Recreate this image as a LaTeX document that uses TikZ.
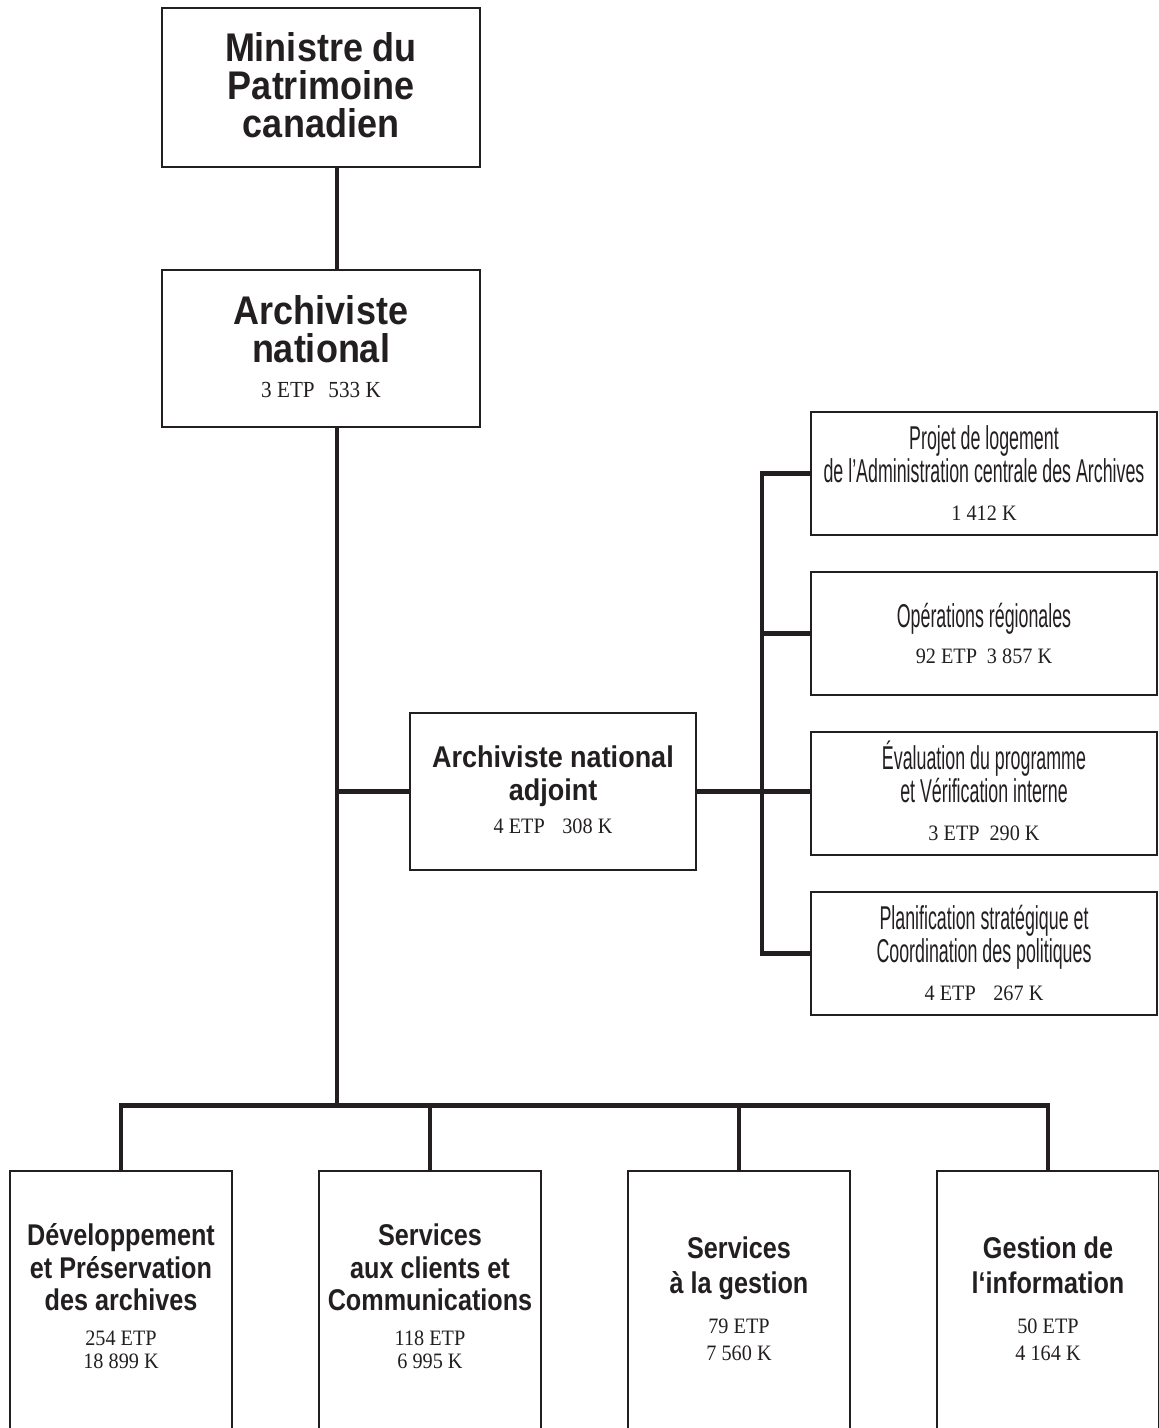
\documentclass[tikz,border=0pt]{standalone}
\usepackage{fontspec}
\setmainfont{Liberation Serif}
\newfontfamily\hbA[FakeStretch=0.9]{Liberation Sans Bold}
\newfontfamily\hbC[FakeStretch=0.84]{Liberation Sans Bold}
\newfontfamily\condf[FakeStretch=0.54]{Liberation Sans}
\newfontfamily\numf[FakeStretch=0.92]{Liberation Serif}
\definecolor{ink}{HTML}{231F20}
\begin{document}
\begin{tikzpicture}[x=0.5pt,y=-0.5pt,
  box/.style={draw=ink, line width=1.2pt, rectangle, inner sep=0pt},
  conn/.style={draw=ink, line width=2.2pt},
  txt/.style={anchor=base, inner sep=0pt, text=ink},
  big/.style={txt, font=\hbA\fontsize{20}{20}\selectfont},
  mid/.style={txt, font=\hbA\fontsize{15}{15}\selectfont},
  low/.style={txt, font=\hbC\fontsize{15}{15}\selectfont},
  thn/.style={txt, font=\condf\fontsize{16.5}{16.5}\selectfont},
  num/.style={txt, font=\numf\fontsize{11}{11}\selectfont},
  numbig/.style={txt, font=\numf\fontsize{11.5}{11.5}\selectfont},
  topbox/.style={box, minimum width=159pt, minimum height=79.5pt},
  rbox/.style={box, minimum width=173pt, minimum height=61.5pt},
  bbox/.style={box, minimum width=111pt, minimum height=140pt},
]
\useasboundingbox (0,0) rectangle (1159,1428);

% boxes
\node[topbox] (min) at (321,87.5) {};
\node[topbox, minimum height=78.5pt] (an) at (321,348.5) {};
\node[box, minimum width=143pt, minimum height=78.5pt] (adj) at (553,791.5) {};
\node[rbox] (r1) at (984,473.5) {};
\node[rbox] (r2) at (984,633.5) {};
\node[rbox] (r3) at (984,793.5) {};
\node[rbox] (r4) at (984,953.5) {};
\node[bbox] (b1) at (121,1311) {};
\node[bbox] (b2) at (430,1311) {};
\node[bbox] (b3) at (739,1311) {};
\node[bbox] (b4) at (1048,1311) {};

% connectors
\coordinate (mv) at (337,0);
\coordinate (rb) at (762,0);
\coordinate (bus) at (0,1105.5);
\draw[conn] (min.south -| mv) -- (an.north -| mv);
\draw[conn] (an.south -| mv) -- (bus -| mv);
\draw[conn] (b1.north) -- (b1.north |- bus) -- (b4.north |- bus) -- (b4.north);
\draw[conn] (b2.north) -- (b2.north |- bus);
\draw[conn] (b3.north) -- (b3.north |- bus);
\draw[conn] (adj.west) -- (adj.west -| mv);
\draw[conn] (adj.east) -- (adj.east -| r3.west);
\draw[conn] (r1.west) -- (r1.west -| rb) -- (r4.west -| rb) -- (r4.west);
\draw[conn] (r2.west) -- (r2.west -| rb);

% texts: top
\node[big] (t1) at (321,62) {Ministre du};
\node[big] (t2) at (321,100) {Patrimoine};
\node[big] (t3) at (321,138) {canadien};
\node[big] (t4) at (321,325) {Archiviste};
\node[big] (t5) at (321,363) {national};
\node[numbig] (t6) at (321,397) {3 ETP\hspace{0.6em}533 K};

% adjoint
\node[mid] (a1) at (553,767) {Archiviste national};
\node[mid] (a2) at (553,800) {adjoint};
\node[num] (a3) at (553,833) {4 ETP\hspace{0.8em}308 K};

% right boxes
\node[thn] (p1) at (984,449) {Projet de logement};
\node[thn] (p2) at (984,482) {de l’Administration centrale des Archives};
\node[num] (p3) at (984,520) {1 412 K};
\node[thn] (o1) at (984,627) {Opérations régionales};
\node[num] (o2) at (984,663) {92 ETP\hspace{0.45em}3 857 K};
\node[thn] (e1) at (984,769) {Évaluation du programme};
\node[thn] (e2) at (984,802) {et Vérification interne};
\node[num] (e3) at (984,840) {3 ETP\hspace{0.45em}290 K};
\node[thn] (s1) at (984,929) {Planification stratégique et};
\node[thn] (s2) at (984,962) {Coordination des politiques};
\node[num] (s3) at (984,1000) {4 ETP\hspace{0.8em}267 K};

% bottom boxes
\node[low] (d1) at (121,1245) {Développement};
\node[low] (d2) at (121,1278) {et Préservation};
\node[low] (d3) at (121,1310) {des archives};
\node[num] (d4) at (121,1345) {254 ETP};
\node[num] (d5) at (121,1368) {18 899 K};

\node[low] (c1) at (430,1245) {Services};
\node[low] (c2) at (430,1278) {aux clients et};
\node[low] (c3) at (430,1310) {Communications};
\node[num] (c4) at (430,1345) {118 ETP};
\node[num] (c5) at (430,1368) {6 995 K};

\node[low] (g1) at (739,1258) {Services};
\node[low] (g2) at (739,1293) {à la gestion};
\node[num] (g3) at (739,1333) {79 ETP};
\node[num] (g4) at (739,1360) {7 560 K};

\node[low] (i1) at (1048,1258) {Gestion de};
\node[low] (i2) at (1048,1293) {l‘information};
\node[num] (i3) at (1048,1333) {50 ETP};
\node[num] (i4) at (1048,1360) {4 164 K};
\end{tikzpicture}
\end{document}
